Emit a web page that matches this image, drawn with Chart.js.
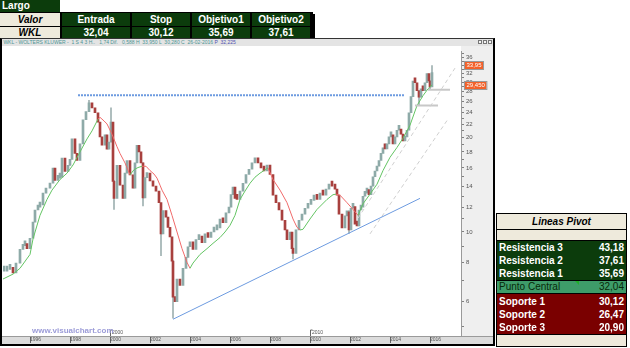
<!DOCTYPE html>
<html lang="es">
<head>
<meta charset="utf-8">
<title>WKL - Wolters Kluwer</title>
<script src="https://cdn.jsdelivr.net/npm/chart.js@4.4.1/dist/chart.umd.min.js"></script>
<style>
  html, body { margin:0; padding:0; background:#fff; }
  body { width:630px; height:348px; position:relative; overflow:hidden; font-family:"Liberation Sans", Arial, sans-serif; }
  .c { position:absolute; box-sizing:border-box; font-size:10px; font-weight:bold; line-height:13px; height:13px; white-space:nowrap; overflow:hidden; }
  .g { background:#0c3c0c; color:#fff; text-align:center; }
  .bg { background:#eeeadc; color:#000; text-align:center; font-style:italic; }
  .blk { position:absolute; background:#000; }
  .row { position:absolute; left:497px; width:129px; height:13px; font-size:10px; font-weight:bold; line-height:13px; color:#fff; }
  .row .l { position:absolute; left:2px; top:0; }
  .row .v { position:absolute; right:2px; top:0; }
  #win { position:absolute; left:0; top:38px; width:495px; height:308px; box-sizing:border-box;
         border-top:1px solid #333; border-left:2px solid #000; border-right:2px solid #000; border-bottom:2px solid #000; background:#fff; }
  #strip { position:absolute; left:2px; top:39px; width:491px; height:7px; background:#e4e4e4; font-size:5px; line-height:7px; color:#4d9494; white-space:nowrap; overflow:hidden; }
  #chart { position:absolute; left:2px; top:46px; }
  #wm { position:absolute; left:32px; top:326px; font-size:8px; font-weight:bold; color:#9c9cd8; }
  .btn { position:absolute; top:40px; width:4px; height:4px; border:1px solid #777; box-sizing:border-box; background:#f4f4f4; }
</style>
</head>
<body>

<!-- Trade set-up table -->
<div class="c g" style="left:0;top:0;width:60px;height:12px;line-height:12px;text-align:left;padding-left:2px;">Largo</div>
<div class="blk" style="left:0;top:12px;width:313px;height:28px;"></div>
<div class="blk" style="left:311px;top:14px;width:4px;height:26px;"></div>
<div class="c bg" style="left:0;top:13px;width:60px;">Valor</div>
<div class="c g" style="left:62px;top:13px;width:68px;">Entrada</div>
<div class="c g" style="left:132px;top:13px;width:58px;">Stop</div>
<div class="c g" style="left:192px;top:13px;width:58px;">Objetivo1</div>
<div class="c g" style="left:252px;top:13px;width:58px;">Objetivo2</div>
<div class="c bg" style="left:0;top:27px;width:60px;height:12px;line-height:12px;">WKL</div>
<div class="c g" style="left:62px;top:27px;width:68px;height:12px;line-height:12px;">32,04</div>
<div class="c g" style="left:132px;top:27px;width:58px;height:12px;line-height:12px;">30,12</div>
<div class="c g" style="left:192px;top:27px;width:58px;height:12px;line-height:12px;">35,69</div>
<div class="c g" style="left:252px;top:27px;width:58px;height:12px;line-height:12px;">37,61</div>

<!-- Chart window -->
<div id="win"></div>
<div id="strip">&nbsp;WKL - WOLTERS KLUWER - &nbsp;1 S 4 3 H.. &nbsp;&nbsp;1,74 Dif. &nbsp;&nbsp;0,588 H &nbsp;33,950 L &nbsp;30,280 C &nbsp;26-02-2016 <span style="color:#5050b0">P &nbsp;32,225</span></div>
<div class="btn" style="left:478px;"></div>
<div class="btn" style="left:483px;"></div>
<div class="btn" style="left:488px;"></div>
<canvas id="chart" width="491" height="298"></canvas>
<div id="wm">www.visualchart.com</div>

<!-- Pivot levels -->
<div class="blk" style="left:496px;top:213px;width:131px;height:134px;"></div>
<div class="row" style="top:214px;height:15px;line-height:15px;background:#eeeadc;color:#000;font-style:italic;text-align:center;">Lineas Pivot</div>
<div class="row" style="top:230px;height:10px;background:#eeeadc;"></div>
<div class="row" style="top:241px;height:39px;background:#0c3c0c;"></div>
<div class="row" style="top:241px;"><span class="l">Resistencia 3</span><span class="v">43,18</span></div>
<div class="row" style="top:254px;"><span class="l">Resistencia 2</span><span class="v">37,61</span></div>
<div class="row" style="top:267px;"><span class="l">Resistencia 1</span><span class="v">35,69</span></div>
<div class="row" style="top:281px;height:12px;line-height:12px;background:#3e9c69;color:#082a0a;font-weight:normal;"><span class="l">Punto Central</span><span class="v">32,04</span></div>
<div style="position:absolute;left:575px;top:281px;width:0;height:0;border-top:4px solid #1fae2a;border-left:4px solid transparent;"></div>
<div class="row" style="top:294px;height:40px;background:#7a0000;"></div>
<div class="row" style="top:295px;"><span class="l">Soporte 1</span><span class="v">30,12</span></div>
<div class="row" style="top:308px;"><span class="l">Soporte 2</span><span class="v">26,47</span></div>
<div class="row" style="top:321px;"><span class="l">Soporte 3</span><span class="v">20,90</span></div>
<div class="row" style="top:335px;height:11px;background:#eeeadc;"></div>

<script>
// Weekly closes of WKL (sampled), dates as decimal years
const priceDates = [
  1994.70,1994.85,1995.00,1995.15,1995.30,1995.50,1995.65,1995.75,1995.85,1996.00,
  1996.15,1996.25,1996.40,1996.50,1996.65,1996.80,1997.00,1997.15,1997.25,1997.40,
  1997.50,1997.60,1997.75,1997.90,1998.00,1998.10,1998.25,1998.35,1998.50,1998.65,
  1998.80,1998.95,1999.10,1999.25,1999.40,1999.50,1999.60,1999.75,1999.85,1999.95,
  2000.05,2000.15,2000.20,2000.35,2000.50,2000.65,2000.75,2000.85,2001.00,2001.15,
  2001.25,2001.35,2001.45,2001.55,2001.65,2001.75,2001.85,2002.00,2002.15,2002.30,
  2002.45,2002.55,2002.65,2002.80,2002.90,2003.00,2003.10,2003.15,2003.25,2003.35,
  2003.50,2003.65,2003.80,2003.90,2004.00,2004.15,2004.30,2004.45,2004.60,2004.75,
  2004.90,2005.05,2005.20,2005.35,2005.50,2005.65,2005.80,2005.95,2006.05,2006.15,
  2006.25,2006.35,2006.50,2006.65,2006.80,2006.95,2007.10,2007.25,2007.40,2007.55,
  2007.70,2007.85,2008.00,2008.15,2008.30,2008.45,2008.60,2008.75,2008.85,2009.00,
  2009.10,2009.15,2009.30,2009.45,2009.60,2009.75,2009.90,2010.05,2010.20,2010.35,
  2010.50,2010.65,2010.80,2010.95,2011.10,2011.25,2011.35,2011.45,2011.60,2011.75,
  2011.85,2011.95,2012.05,2012.15,2012.25,2012.35,2012.45,2012.55,2012.65,2012.75,
  2012.85,2012.95,2013.05,2013.15,2013.25,2013.35,2013.45,2013.55,2013.65,2013.75,
  2013.85,2013.95,2014.05,2014.15,2014.25,2014.35,2014.45,2014.55,2014.65,2014.75,
  2014.85,2014.95,2015.05,2015.15,2015.25,2015.35,2015.45,2015.55,2015.65,2015.75,
  2015.85,2015.95,2016.00,2016.10
];
const priceClose = [
  7.50,7.60,7.72,7.40,7.96,8.80,9.04,9.10,8.85,9.55,
  10.75,11.75,12.0,12.2,13.3,13.8,14.3,16.0,14.6,14.85,
  14.95,17.2,15.6,16.3,17.05,19.8,17.8,16.9,19.1,22.8,
  24.2,25.8,24.85,24.0,22.4,20.1,18.9,20.4,18.35,19.35,
  22.4,14.5,12.8,16.3,14.1,12.8,15.4,16.9,15.2,13.8,
  16.6,18.9,18.0,16.6,12.85,14.9,15.4,14.55,14.0,13.5,
  12.4,9.85,11.7,11.15,10.35,9.65,8.07,6.2,6.0,7.08,
  6.75,7.66,8.3,8.97,9.3,8.8,9.45,9.7,9.25,9.87,
  9.6,10.0,10.15,10.3,11.0,10.7,11.5,12.0,13.15,13.9,
  12.8,12.7,13.5,14.3,15.25,15.85,16.6,17.2,16.6,16.0,
  15.65,16.35,15.25,13.1,12.4,11.75,10.9,10.15,9.45,10.0,
  8.85,8.55,10.15,10.9,11.4,11.9,12.25,12.6,13.1,12.7,
  13.3,13.1,13.7,14.2,14.0,13.7,13.1,11.4,10.3,11.25,
  11.6,10.15,11.9,12.05,10.6,10.45,11.75,12.0,13.0,13.3,
  13.6,13.15,14.0,15.0,15.65,16.2,16.9,17.8,18.55,18.4,
  19.1,20.1,20.4,19.1,20.1,21.1,21.3,20.5,19.5,20.1,
  21.1,24.0,27.0,30.3,29.9,28.2,26.9,28.6,28.2,29.9,
  32.0,30.3,29.0,32.2
];

// Intraweek extremes on the sharpest bars
const wickDates = [1998.95, 2000.05, 2000.20, 2001.65, 2002.55, 2003.15, 2009.15, 2011.95, 2015.45, 2016.00, 2016.10];
const wickLow   = [24.6, 19.4, 11.8, 12.1, 8.4, 5.31, 8.2, 9.9, 25.3, 28.4, 31.5];
const wickHigh  = [26.3, 24.9, 14.6, 16.6, 11.7, 8.1, 8.9, 11.7, 28.3, 30.4, 33.95];

// Moving average; 'u' = price above it (green), 'd' = below (red)
const maDates = [
  1994.65,1995.15,1995.50,1996.00,1996.15,1996.50,1996.85,1997.10,1997.50,1997.85,
  1998.15,1998.50,1998.85,1999.10,1999.40,1999.50,1999.70,1999.85,2000.10,2000.35,
  2000.50,2000.75,2001.00,2001.20,2001.40,2001.60,2001.80,2002.00,2002.20,2002.35,
  2002.50,2002.60,2002.85,2003.10,2003.35,2003.60,2003.85,2004.00,2004.15,2004.50,
  2004.85,2005.15,2005.50,2005.75,2006.00,2006.25,2006.50,2006.75,2007.00,2007.25,
  2007.50,2007.70,2007.90,2008.15,2008.50,2008.85,2009.15,2009.35,2009.50,2009.65,
  2010.00,2010.35,2010.85,2011.15,2011.30,2011.50,2011.85,2012.15,2012.40,2012.65,
  2013.00,2013.35,2013.65,2014.00,2014.35,2014.65,2015.00,2015.35,2015.65,2015.90,
  2016.10
];
const maValues = [
  7.08,7.34,7.66,8.48,9.5,11.3,12.7,13.6,14.7,15.4,
  16.35,18.0,19.8,21.0,22.9,23.2,22.6,22.1,20.5,18.7,
  17.8,16.6,15.2,15.8,16.05,16.2,16.2,15.7,15.3,14.85,
  14.1,13.6,12.7,11.3,10.0,8.85,8.0,7.66,7.96,8.48,
  8.85,9.2,9.6,10.0,10.5,11.3,12.7,13.5,14.3,14.95,
  15.4,15.7,16.0,14.7,13.6,12.4,11.0,10.35,10.15,10.2,
  11.0,11.8,12.7,13.15,13.2,13.1,12.4,11.8,11.3,12.3,
  13.2,14.2,15.7,17.3,18.6,19.9,21.9,25.3,27.2,28.6,
  29.45
];
const maTrend = ['uuuuuuuuuuuuuu','dddddddd','uuu','dddddddddddd','uuuuuuuuuuuuuuu',
                 'dddddd','uuuuuu','dddd','uuuuuuuuuuuuu'].join('');

// Drawn studies
const resistanceDates  = [1998.40, 2014.75];
const resistanceValues = [27.3, 27.3];
const supportDates     = [2003.15, 2015.50];
const supportValues    = [5.27, 12.8];
const channelADates    = [2012.40, 2017.25];
const channelAValues   = [11.06, 33.3];
const channelBDates    = [2013.00, 2016.90];
const channelBValues   = [9.86, 22.9];
const swingLowDates    = [2015.25, 2016.40];
const swingLowValues   = [25.3, 25.3];
const swingHighDates   = [2015.90, 2017.00];
const swingHighValues  = [28.4, 28.4];

// Axis ticks
const yearTicks   = [1996, 1998, 2000, 2002, 2004, 2006, 2008, 2010, 2012, 2014, 2016];
const decadeMarks = [2000, 2010];
const priceTicks  = [5,6,7,8,9,10,11,12,13,14,15,16,17,18,19,20,21,22,23,24,25,26,27,28,29,30,31,32,33,34,35,36,37];
const priceLabels = [6,8,10,12,14,16,18,20,22,24,26,28,30,32,34,36];
const lastHigh = 33.95;
const lastAverage = maValues[maValues.length - 1];

const pts = (xs, ys) => xs.map((d, i) => ({ x: d, y: ys[i] }));

const bars = priceDates.map((d, i) => ({ x: d, y: [i ? priceClose[i - 1] : priceClose[0], priceClose[i]] }));
const barColors = priceDates.map((d, i) => (i && priceClose[i] < priceClose[i - 1]) ? '#a8403e' : '#8eaaa8');

const GREEN = '#63c463';
const RED = '#f06a6a';

const chartFrame = {
  id: 'chartFrame',
  beforeDraw(chart) {
    const { ctx, chartArea: a, scales: { x } } = chart;
    ctx.save();
    // price axis panel
    ctx.fillStyle = '#efefef';
    ctx.fillRect(a.right, 0, chart.width - a.right, a.bottom);
    // time band
    ctx.fillStyle = '#dcdcdc';
    ctx.fillRect(0, a.bottom, chart.width, chart.height - a.bottom);
    ctx.strokeStyle = '#9a9a9a';
    ctx.lineWidth = 1;
    ctx.beginPath();
    ctx.moveTo(0, a.bottom + 0.5); ctx.lineTo(chart.width, a.bottom + 0.5);
    ctx.stroke();
    ctx.strokeStyle = '#666';
    yearTicks.forEach(v => {
      const px = Math.round(x.getPixelForValue(v)) + 0.5;
      ctx.beginPath(); ctx.moveTo(px, a.bottom + 1); ctx.lineTo(px, chart.height - 1); ctx.stroke();
    });
    ctx.restore();
  },
  afterDraw(chart) {
    const { ctx, chartArea: a, scales: { x, y } } = chart;
    ctx.save();
    // decade markers above the time band
    ctx.font = '5px "Liberation Sans", Arial';
    ctx.fillStyle = '#555';
    ctx.strokeStyle = '#666';
    ctx.textBaseline = 'bottom';
    decadeMarks.forEach(v => {
      const px = Math.round(x.getPixelForValue(v)) + 0.5;
      ctx.beginPath(); ctx.moveTo(px, a.bottom - 6); ctx.lineTo(px, a.bottom); ctx.stroke();
      ctx.beginPath(); ctx.moveTo(px, a.bottom - 6); ctx.lineTo(px + 2, a.bottom - 6); ctx.stroke();
      ctx.fillText(String(v), px + 1.5, a.bottom - 0.5);
    });
    // value flags on the price axis
    const flags = [
      { v: lastHigh, t: lastHigh.toFixed(2).replace('.', ',') },
      { v: lastAverage, t: lastAverage.toFixed(3).replace('.', ',') }
    ];
    ctx.font = '6px "Liberation Sans", Arial';
    ctx.textBaseline = 'middle';
    flags.forEach(f => {
      const py = Math.round(y.getPixelForValue(f.v));
      const w = ctx.measureText(f.t).width + 3;
      ctx.fillStyle = '#f2612a';
      ctx.fillRect(a.right + 4, py - 3, w, 7);
      ctx.strokeStyle = '#9a9a9a';
      ctx.strokeRect(a.right + 3.5, py - 3.5, w + 1, 8);
      ctx.fillStyle = '#fff';
      ctx.fillText(f.t, a.right + 5.5, py + 0.5);
    });
    ctx.restore();
  }
};

new Chart(document.getElementById('chart'), {
  type: 'bar',
  data: {
    datasets: [
      { type: 'bar', data: pts(wickDates, wickLow).map((p, i) => ({ x: p.x, y: [wickLow[i], wickHigh[i]] })),
        backgroundColor: '#9fb1b1', barThickness: 1, grouped: false, order: 6 },
      { type: 'bar', data: bars, backgroundColor: barColors, barThickness: 2, minBarLength: 5, grouped: false, order: 5 },
      { type: 'line', data: pts(maDates, maValues), borderWidth: 1, pointRadius: 0, borderColor: GREEN,
        segment: { borderColor: c => maTrend[c.p0DataIndex] === 'd' ? RED : GREEN }, order: 4 },
      { type: 'line', data: pts(channelADates, channelAValues), borderColor: '#cfcfcf', borderWidth: 1, borderDash: [4, 3], pointRadius: 0, order: 3 },
      { type: 'line', data: pts(channelBDates, channelBValues), borderColor: '#cfcfcf', borderWidth: 1, borderDash: [4, 3], pointRadius: 0, order: 3 },
      { type: 'line', data: pts(swingLowDates, swingLowValues), borderColor: '#c8c8c8', borderWidth: 2, pointRadius: 0, order: 3 },
      { type: 'line', data: pts(swingHighDates, swingHighValues), borderColor: '#c8c8c8', borderWidth: 2, pointRadius: 0, order: 3 },
      { type: 'line', data: pts(supportDates, supportValues), borderColor: '#6d9be0', borderWidth: 1, pointRadius: 0, order: 2 },
      { type: 'line', data: pts(resistanceDates, resistanceValues), borderColor: '#6d9be0', borderWidth: 2, borderDash: [2, 1], pointRadius: 0, order: 1 }
    ]
  },
  options: {
    responsive: false,
    animation: false,
    devicePixelRatio: 1,
    layout: { padding: { left: 1, right: 0, top: 0, bottom: 0 } },
    plugins: { legend: { display: false }, tooltip: { enabled: false } },
    scales: {
      x: {
        type: 'linear', position: 'bottom', min: 1994.65, max: 2017.55, offset: false,
        afterBuildTicks: s => { s.ticks = yearTicks.map(v => ({ value: v })); },
        afterFit: s => { s.height = 8; },
        grid: { display: false, drawTicks: false },
        border: { display: false },
        ticks: { autoSkip: false, maxRotation: 0, align: 'start', padding: 1, color: '#555',
                 font: { size: 5, family: '"Liberation Sans", Arial' }, callback: v => String(v) }
      },
      y: {
        type: 'logarithmic', position: 'right', min: 4.66, max: 37.59,
        afterBuildTicks: s => { s.ticks = priceTicks.map(v => ({ value: v })); },
        afterFit: s => { s.width = 32; },
        grid: { drawOnChartArea: false, drawTicks: true, tickLength: 3, color: '#808080' },
        border: { display: true, color: '#9a9a9a' },
        ticks: { autoSkip: false, padding: 2, color: '#555',
                 font: { size: 6, family: '"Liberation Sans", Arial' },
                 callback: v => priceLabels.includes(v) ? String(v) : '' }
      }
    }
  },
  plugins: [chartFrame]
});
</script>
</body>
</html>
